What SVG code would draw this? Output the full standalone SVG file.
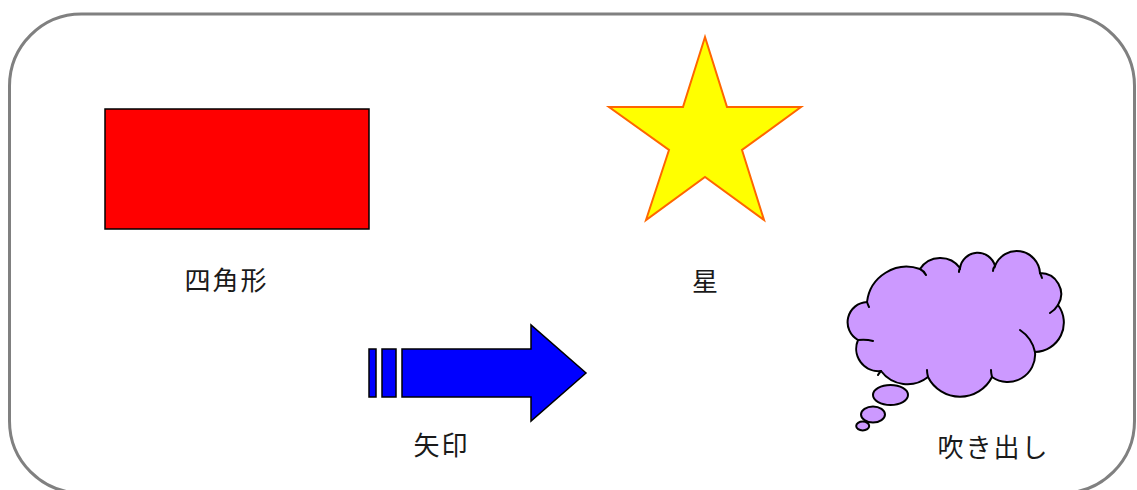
<svg xmlns="http://www.w3.org/2000/svg" width="1137" height="490" viewBox="0 0 1137 490">
<style>
.lbl{font-family:"Noto Sans CJK JP","Noto Sans CJK SC",sans-serif;font-size:26px;letter-spacing:2px;fill:#1a1a1a;text-anchor:middle}
.blk{stroke:#000;stroke-width:1.5;stroke-linejoin:miter}
.cl{fill:#CC99FF;stroke:#000;stroke-width:2}
.tail{fill:none;stroke:#000;stroke-width:2;stroke-linecap:round}
</style>
<rect id="frame" x="9.5" y="14" width="1125" height="479" rx="72" ry="72" fill="#fff" stroke="#808080" stroke-width="3"/>
<g id="rect-node">
<rect class="blk" x="105" y="109" width="264" height="120" fill="#FF0000"/>
<text class="lbl" x="226.5" y="290">四角形</text>
</g>
<g id="star-node">
<polygon points="705,37 727,107 801,107 742,150 764,220 705,177 646,220 669,150 609,107 683,107" fill="#FFFF00" stroke="#FF6600" stroke-width="2" stroke-linejoin="miter"/>
<text class="lbl" x="706" y="291">星</text>
</g>
<g id="arrow-node">
<rect class="blk" x="369" y="349" width="7" height="48" fill="#0000FF"/>
<rect class="blk" x="382" y="349" width="14" height="48" fill="#0000FF"/>
<polygon class="blk" points="402,349 531,349 531,325 586,373 531,421 531,397 402,397" fill="#0000FF"/>
<text class="lbl" x="441.5" y="455">矢印</text>
</g>
<g id="cloud-node">
<path class="cl" d="M867,302 A40,40 0 0 1 920,269 A24.3,24.3 0 0 1 960,268 A17.9,17.9 0 0 1 995,266 A23.3,23.3 0 0 1 1040,273 A21,21 0 0 1 1058,305 A29.4,29.4 0 0 1 1035,352 A27.4,27.4 0 0 1 992,377 A35.8,35.8 0 0 1 928,377 A33,33 0 0 1 881,371 A22.4,22.4 0 0 1 858,340 A20.3,20.3 0 0 1 867,302 Z"/>
<path class="tail" d="M867,302 Q868,305 869,307 M858,340 Q866,339 873,341 M920,269 Q924,271 926,275 M960,268 Q959,270 959,272 M995,266 Q993,268 993,271 M1040,273 Q1041,275 1042,278 M1058,305 Q1055,310 1050,313 M1020,330 Q1032,338 1035,352 M992,377 Q991,373 991,370 M928,377 Q927,373 927,370 M881,371 Q879,373 878,375"/>
<ellipse class="cl" cx="890.5" cy="395" rx="17.5" ry="10"/>
<ellipse class="cl" cx="873" cy="414.5" rx="12" ry="8"/>
<ellipse class="cl" cx="862.7" cy="426" rx="6.5" ry="4.5"/>
<text class="lbl" x="993.5" y="457">吹き出し</text>
</g>
<g id="connectors"/>
</svg>
